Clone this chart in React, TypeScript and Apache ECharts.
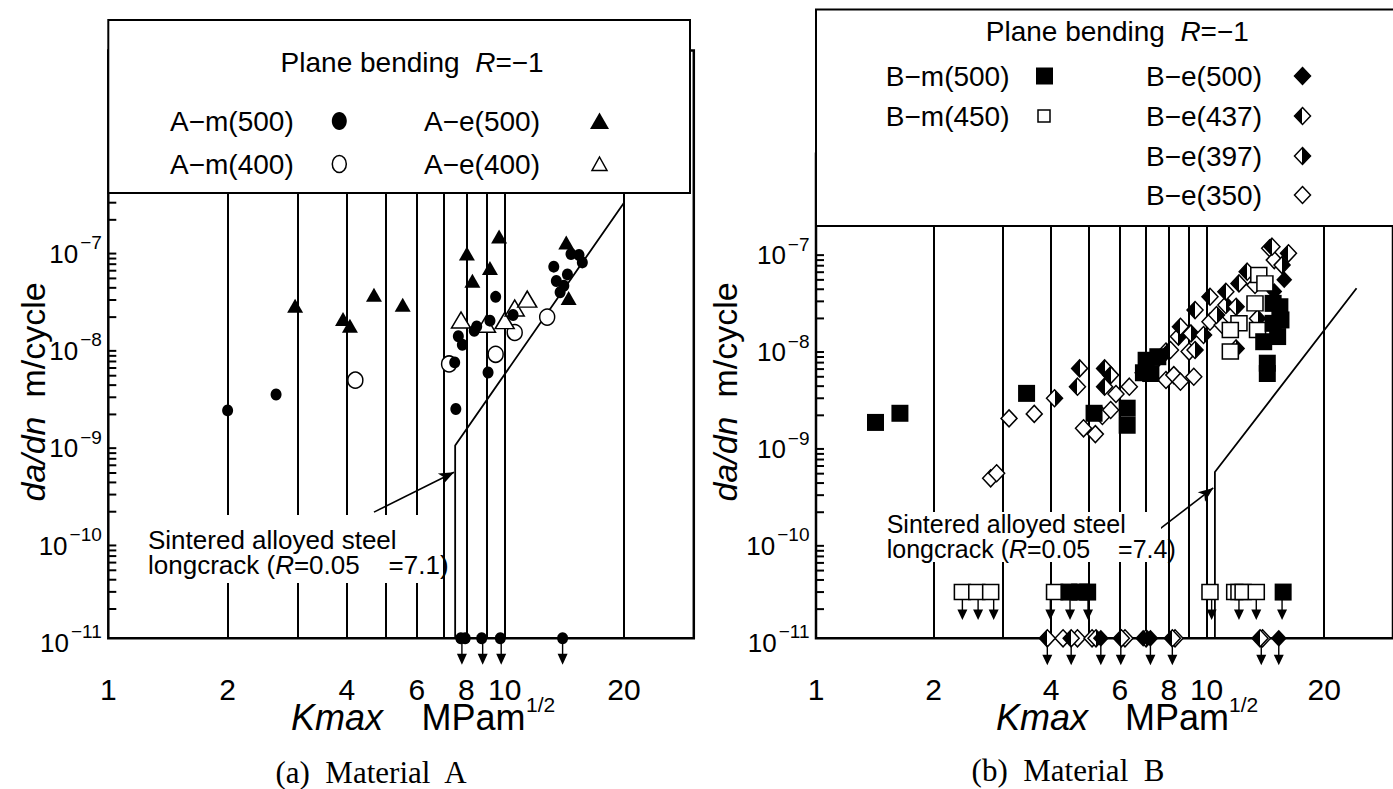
import React, { useEffect, useRef } from "react";
import * as echarts from "echarts";

const SANS = '"Liberation Sans", Arial, Helvetica, sans-serif';
const SERIF = '"Liberation Serif", "Times New Roman", Times, serif';

// ---------- axes ----------
const K_MIN = 1;
const K_MAX = 30;
const V_MIN = 1e-11;
const V_MAX_A = 1.1e-5; // frame of (a) reaches up behind the legend box
const V_MAX_B = 1e-6;
const xTicks = [1, 2, 4, 6, 8, 10, 20];
const yTicks = [1e-7, 1e-8, 1e-9, 1e-10, 1e-11];
const yTickExp = ["−7", "−8", "−9", "−10", "−11"];
const gridK = [2, 3, 4, 5, 6, 7, 8, 9, 10, 20];
const gridV = [1e-7, 1e-8, 1e-9, 1e-10];
const minorMant = [2, 3, 4, 5, 6, 7, 8, 9];
const minorDecades = [1e-11, 1e-10, 1e-9, 1e-8, 1e-7];

// ---------- (a) Material A ----------
const amK500 = [2.0, 2.65, 7.53, 7.48, 7.64, 7.82, 8.38, 8.5, 9.18, 9.08, 9.49, 10.5, 13.3, 13.5, 13.8, 14.1, 14.4, 14.7, 15.4, 15.7];
const amV500 = [2.2e-9, 3.2e-9, 2.27e-9, 6.85e-9, 1.27e-8, 1.04e-8, 1.45e-8, 1.6e-8, 1.84e-8, 5.4e-9, 3.23e-8, 2.1e-8, 6.6e-8, 4.7e-8, 3.6e-8, 4.2e-8, 5.5e-8, 8.9e-8, 8.7e-8, 7.3e-8];
const amK500Runout = [7.75, 7.95, 8.75, 9.75, 14.0];
const amK400 = [4.2, 7.24, 9.49, 10.6, 12.8];
const amV400 = [4.5e-9, 6.6e-9, 8.3e-9, 1.39e-8, 2.0e-8];
const aeK500 = [2.96, 3.91, 4.07, 4.68, 5.53, 8.03, 8.29, 9.18, 9.68, 14.3, 14.5];
const aeV500 = [2.62e-8, 1.91e-8, 1.63e-8, 3.4e-8, 2.68e-8, 9.0e-8, 4.73e-8, 6.4e-8, 1.35e-7, 1.17e-7, 3.14e-8];
const aeK400 = [7.76, 8.97, 10.0, 10.6, 11.4];
const aeV400 = [1.87e-8, 1.69e-8, 1.84e-8, 2.48e-8, 3.06e-8];
const runoutVA = 1e-11;
const arrowKA = [7.8, 8.8, 9.8, 14.0];
const longCrackKA = [7.5, 7.5, 20];
const longCrackVA = [1e-11, 9.6e-10, 3e-7];
const noteArrowA = [[4.68, 1.98e-10], [7.45, 5.1e-10]];

// ---------- (b) Material B ----------
const bmK500 = [1.42, 1.64, 3.46, 5.15, 6.26, 6.26, 6.89, 7.0, 7.2, 7.5, 15.4, 15.5, 15.2, 14.3, 14.3, 14.0, 14.8, 14.8];
const bmV500 = [1.69e-9, 2.1e-9, 3.37e-9, 2.1e-9, 2.37e-9, 1.58e-9, 5.5e-9, 7.4e-9, 5.4e-9, 8.05e-9, 2.64e-8, 1.93e-8, 1.3e-8, 6.9e-9, 5.4e-9, 1.15e-8, 1.78e-8, 2.86e-8];
const bmK500Runout = [4.44, 4.73, 4.96, 15.7];
const bmK450 = [13.3, 12.1, 11.5, 11.5, 13.5, 13.6, 14.1];
const bmV450 = [2.86e-8, 1.78e-8, 1.52e-8, 9.1e-9, 1.52e-8, 5.6e-8, 4.6e-8];
const bmK450Runout = [2.37, 2.58, 2.8, 4.08, 10.2, 11.8, 12.1, 12.4, 13.4];
const beK500 = [15.8, 14.9];
const beV500 = [5.0e-8, 3.8e-8];
const beK500Runout = [5.36, 6.88, 7.18, 15.3];
const beK437 = [4.73, 4.67, 5.48, 5.68, 5.48, 7.31, 8.08, 8.57, 9.34, 10.2, 11.2, 12.1, 12.7, 14.7, 16.2];
const beV437 = [6.1e-9, 3.95e-9, 6.1e-9, 5.2e-9, 3.95e-9, 6.9e-9, 9.45e-9, 1.64e-8, 2.44e-8, 3.35e-8, 3.77e-8, 4.6e-8, 6.07e-8, 1.1e-7, 9.4e-8];
const beK437Runout = [3.91, 4.5, 6.05, 8.17, 13.7];
const beK397 = [4.08, 7.87, 8.47, 9.12, 9.34, 9.82, 10.6, 11.2, 11.9, 11.9, 13.5, 15.6];
const beV397 = [3.0e-9, 9.1e-9, 1.3e-8, 1.4e-8, 9.45e-9, 1.35e-8, 2.17e-8, 2.75e-8, 2.64e-8, 9.8e-9, 2.0e-8, 7.1e-8];
const beK397Runout = [5.21, 7.0];
const beK350 = [2.8, 2.9, 3.12, 3.62, 4.84, 5.19, 5.41, 5.68, 5.86, 6.34, 6.88, 7.87, 8.24, 8.57, 9.27, 9.02, 10.2, 10.96, 13.3, 14.5, 14.9];
const beV350 = [4.48e-10, 5.05e-10, 1.86e-9, 2.07e-9, 1.47e-9, 1.28e-9, 1.97e-9, 2.27e-9, 3.32e-9, 3.95e-9, 5.5e-9, 4.63e-9, 5.2e-9, 4.45e-9, 5.0e-9, 9.1e-9, 1.85e-8, 1.71e-8, 4.43e-8, 1.06e-7, 8.0e-8];
const beK350Runout = [4.29, 4.67, 5.09, 6.18, 8.3, 13.9];
const runoutVBsq = 3e-11;
const runoutVBdia = 1e-11;
const arrowKBsq = [2.37, 2.6, 2.85, 3.98, 4.47, 4.97, 10.3, 12.1, 13.4, 15.6];
const arrowKBdia = [3.91, 4.5, 5.36, 6.03, 7.18, 8.17, 13.8, 15.3];
const longCrackKB = [10.5, 10.5, 24.2];
const longCrackVB = [1e-11, 5.2e-10, 4.1e-8];
const noteArrowB = [[7.52, 1.31e-10], [10.4, 3.56e-10]];

// ---------- helpers ----------
const pairs = (ks: number[], vs: number[]) => ks.map((k, i) => [k, vs[i]]);
const runout = (ks: number[], v: number) => ks.map((k) => [k, v]);

const ARROW = "path://M4.3,0L5.7,0L5.7,10L10,10L5,21L0,10L4.3,10Z";
const OPEN = { color: "#fff", borderColor: "#000", borderWidth: 1.5 };
const SOLID = { color: "#000" };

const halfLeft = () =>
  new echarts.graphic.LinearGradient(0, 0, 1, 0, [
    { offset: 0, color: "#000" },
    { offset: 0.5, color: "#000" },
    { offset: 0.5, color: "#fff" },
    { offset: 1, color: "#fff" },
  ]);
const halfRight = () =>
  new echarts.graphic.LinearGradient(0, 0, 1, 0, [
    { offset: 0, color: "#fff" },
    { offset: 0.5, color: "#fff" },
    { offset: 0.5, color: "#000" },
    { offset: 1, color: "#000" },
  ]);

function scatter(gi: number, data: any[], symbol: string, size: any, itemStyle: any, extra: any = {}) {
  return {
    type: "scatter",
    xAxisIndex: gi,
    yAxisIndex: gi,
    data,
    symbol,
    symbolSize: size,
    itemStyle: { opacity: 1, ...itemStyle },
    clip: false,
    silent: true,
    z: 5,
    ...extra,
  };
}

function decor(gi: number, lcK: number[], lcV: number[], note: number[][]) {
  const minor: number[][] = [];
  minorDecades.forEach((d) => minorMant.forEach((m) => minor.push([K_MIN, m * d])));
  return [
    {
      type: "line",
      xAxisIndex: gi,
      yAxisIndex: gi,
      data: pairs(lcK, lcV),
      symbol: "none",
      showSymbol: false,
      lineStyle: { color: "#000", width: 1.8, opacity: 1 },
      silent: true,
      clip: false,
      z: 3,
      markLine: {
        silent: true,
        symbol: ["none", "none"],
        label: { show: false },
        lineStyle: { color: "#000", width: 2, type: "solid", opacity: 1 },
        emphasis: { disabled: true },
        data: [
          ...gridK.map((k) => ({ xAxis: k })),
          ...gridV.map((v) => ({ yAxis: v })),
          [
            { coord: note[0], symbol: "none", lineStyle: { color: "#000", width: 1.6, type: "solid" } },
            { coord: note[1], symbol: "arrow", symbolSize: [9, 15], lineStyle: { color: "#000", width: 1.6, type: "solid" } },
          ],
        ],
      },
    },
    scatter(gi, minor, "rect", [8, 2], SOLID, { symbolOffset: [4, 0], z: 4 }),
    scatter(gi, xTicks.map((k) => [k, V_MIN]), "circle", 1, { color: "rgba(0,0,0,0)" }, {
      label: {
        show: true,
        position: "bottom",
        distance: 38.5,
        formatter: (p: any) => String(p.value[0]),
        fontSize: 30,
        lineHeight: 24,
        fontFamily: SANS,
        color: "#000",
        opacity: 1,
      },
    }),
    scatter(
      gi,
      yTicks.map((v, i) => ({ value: [K_MIN, v], name: yTickExp[i] })),
      "circle",
      1,
      { color: "rgba(0,0,0,0)" },
      {
        label: {
          show: true,
          position: "left",
          distance: 6,
          offset: [0, 2.5],
          opacity: 1,
          formatter: (p: any) => `{b|10}{s|${p.name}}`,
          rich: {
            b: { fontSize: 26, height: 26, lineHeight: 30, verticalAlign: "bottom", fontFamily: SANS, color: "#000" },
            s: { fontSize: 19, height: 12, lineHeight: 12, verticalAlign: "top", fontFamily: SANS, color: "#000", padding: [0, 0, 0, 2] },
          },
        },
      }
    ),
  ];
}

function txt(x: number, y: number, text: string, size: number, extra: any = {}) {
  return {
    type: "text",
    x,
    y,
    z: 101,
    style: {
      text,
      fontSize: size,
      fontFamily: SANS,
      fill: "#000",
      align: "left",
      verticalAlign: "middle",
      rich: { i: { fontStyle: "italic", fontSize: size, fontFamily: SANS, fill: "#000" } },
      ...extra,
    },
  };
}

function diamond(cx: number, cy: number, fill: any) {
  return {
    type: "polygon",
    z: 101,
    shape: { points: [[cx, cy - 8.5], [cx + 8, cy], [cx, cy + 8.5], [cx - 8, cy]] },
    style: { fill, stroke: "#000", lineWidth: 1.5 },
  };
}

function buildOption() {
  const series: any[] = [
    ...decor(0, longCrackKA, longCrackVA, noteArrowA),
    scatter(0, pairs(amK400, amV400), "circle", [15, 16], OPEN),
    scatter(0, pairs(aeK400, aeV400), "triangle", [19, 16], OPEN),
    scatter(0, [...pairs(amK500, amV500), ...runout(amK500Runout, runoutVA)], "circle", [11, 12], SOLID),
    scatter(0, pairs(aeK500, aeV500), "triangle", [16, 14], SOLID),
    scatter(0, runout(arrowKA, runoutVA), ARROW, [10, 21], SOLID, { symbolOffset: [0, 16] }),

    ...decor(1, longCrackKB, longCrackVB, noteArrowB),
    scatter(1, [...pairs(beK350, beV350), ...runout(beK350Runout, runoutVBdia)], "diamond", [16, 17], OPEN),
    scatter(1, [...pairs(beK397, beV397), ...runout(beK397Runout, runoutVBdia)], "diamond", [16, 17], { color: halfRight(), borderColor: "#000", borderWidth: 1.5 }),
    scatter(1, [...pairs(beK437, beV437), ...runout(beK437Runout, runoutVBdia)], "diamond", [16, 17], { color: halfLeft(), borderColor: "#000", borderWidth: 1.5 }),
    scatter(1, [...pairs(beK500, beV500), ...runout(beK500Runout, runoutVBdia)], "diamond", [16, 17], SOLID),
    scatter(1, [...pairs(bmK450, bmV450), ...runout(bmK450Runout, runoutVBsq)], "rect", [16, 15], OPEN),
    scatter(1, [...pairs(bmK500, bmV500), ...runout(bmK500Runout, runoutVBsq)], "rect", [17, 17], SOLID),
    scatter(1, runout(arrowKBsq, runoutVBsq), ARROW, [10, 20], SOLID, { symbolOffset: [0, 18] }),
    scatter(1, runout(arrowKBdia, runoutVBdia), ARROW, [10, 20], SOLID, { symbolOffset: [0, 17] }),
  ];

  const axisCommon = {
    type: "log",
    logBase: 10,
    axisLine: { show: false },
    axisTick: { show: false },
    axisLabel: { show: false },
    splitLine: { show: false },
  };

  const graphic: any[] = [
    // ----- left legend -----
    { type: "rect", z: 100, shape: { x: 108.3, y: 20, width: 581.7, height: 173 }, style: { fill: "#fff", stroke: "#000", lineWidth: 2 } },
    txt(280.6, 62, "Plane bending  {i|R}=−1", 28),
    txt(170, 121, "A−m(500)", 28),
    txt(424, 121, "A−e(500)", 28),
    txt(170, 164, "A−m(400)", 28),
    txt(424, 164, "A−e(400)", 28),
    { type: "ellipse", z: 101, shape: { cx: 339.3, cy: 121, rx: 7.5, ry: 9 }, style: { fill: "#000" } },
    { type: "ellipse", z: 101, shape: { cx: 339.3, cy: 164, rx: 7, ry: 8.5 }, style: { fill: "#fff", stroke: "#000", lineWidth: 1.5 } },
    { type: "polygon", z: 101, shape: { points: [[599.5, 112.5], [609, 129], [590, 129]] }, style: { fill: "#000" } },
    { type: "polygon", z: 101, shape: { points: [[599.5, 157], [607, 170.5], [592, 170.5]] }, style: { fill: "#fff", stroke: "#000", lineWidth: 1.5 } },

    // ----- right legend -----
    { type: "rect", z: 100, shape: { x: 816, y: 9.5, width: 600, height: 216.5 }, style: { fill: "#fff", stroke: "#000", lineWidth: 2 } },
    txt(985.8, 31, "Plane bending  {i|R}=−1", 28),
    txt(885.8, 76, "B−m(500)", 28),
    txt(885.8, 116, "B−m(450)", 28),
    txt(1146, 76, "B−e(500)", 28),
    txt(1146, 116, "B−e(437)", 28),
    txt(1146, 156, "B−e(397)", 28),
    txt(1146, 195, "B−e(350)", 28),
    { type: "rect", z: 101, shape: { x: 1036, y: 67.5, width: 17, height: 17 }, style: { fill: "#000" } },
    { type: "rect", z: 101, shape: { x: 1038, y: 110, width: 12, height: 12 }, style: { fill: "#fff", stroke: "#000", lineWidth: 1.5 } },
    diamond(1302.5, 76, "#000"),
    diamond(1302.5, 116, halfLeft()),
    diamond(1302.5, 156, halfRight()),
    diamond(1302.5, 195, "#fff"),

    // ----- notes -----
    { type: "rect", z: 100, shape: { x: 137, y: 515, width: 305, height: 68 }, style: { fill: "#fff" } },
    txt(148, 540, "Sintered alloyed steel", 26),
    txt(148, 565, "longcrack ({i|R}=0.05    =7.1)", 26),
    { type: "rect", z: 100, shape: { x: 877, y: 512, width: 284, height: 50 }, style: { fill: "#fff" } },
    txt(886.7, 523.5, "Sintered alloyed steel", 25),
    txt(886.7, 548.5, "longcrack ({i|R}=0.05    =7.4)", 25),

    // ----- axis titles -----
    { ...txt(33, 392, "{i|da/dn}  m/cycle", 34, { align: "center" }), rotation: Math.PI / 2 },
    { ...txt(725, 392, "{i|da/dn}  m/cycle", 34, { align: "center" }), rotation: Math.PI / 2 },
    txt(291, 717, "Kmax", 36, { fontStyle: "italic", lineHeight: 28 }),
    txt(421.5, 717, "MPam", 36, { lineHeight: 28 }),
    txt(526, 704, "1/2", 21, { lineHeight: 16 }),
    txt(996, 717, "Kmax", 36, { fontStyle: "italic", lineHeight: 28 }),
    txt(1125, 717, "MPam", 36, { lineHeight: 28 }),
    txt(1229, 704, "1/2", 21, { lineHeight: 16 }),

    // ----- captions -----
    txt(371, 772, "(a)  Material  A", 31, { fontFamily: SERIF, align: "center" }),
    txt(1068, 770, "(b)  Material  B", 31, { fontFamily: SERIF, align: "center" }),
  ];

  return {
    animation: false,
    backgroundColor: "#fff",
    grid: [
      { left: 108.3, top: 50.5, width: 585.5, height: 587.8, show: true, borderColor: "#000", borderWidth: 2.5, backgroundColor: "transparent" },
      { left: 816, top: 153.8, width: 581.6, height: 484.5, show: true, borderColor: "#000", borderWidth: 2.5, backgroundColor: "transparent" },
    ],
    xAxis: [
      { ...axisCommon, gridIndex: 0, min: K_MIN, max: K_MAX },
      { ...axisCommon, gridIndex: 1, min: K_MIN, max: K_MAX },
    ],
    yAxis: [
      { ...axisCommon, gridIndex: 0, min: V_MIN, max: V_MAX_A },
      { ...axisCommon, gridIndex: 1, min: V_MIN, max: V_MAX_B },
    ],
    series,
    graphic,
  };
}

export default function App() {
  const ref = useRef<HTMLDivElement>(null);
  useEffect(() => {
    const chart = echarts.init(ref.current as HTMLDivElement, null, { renderer: "svg" });
    chart.setOption(buildOption() as any);
    return () => chart.dispose();
  }, []);
  return (
    <div
      ref={ref}
      style={{ position: "fixed", left: 0, top: 0, width: 1393, height: 789, background: "#fff" }}
    />
  );
}
